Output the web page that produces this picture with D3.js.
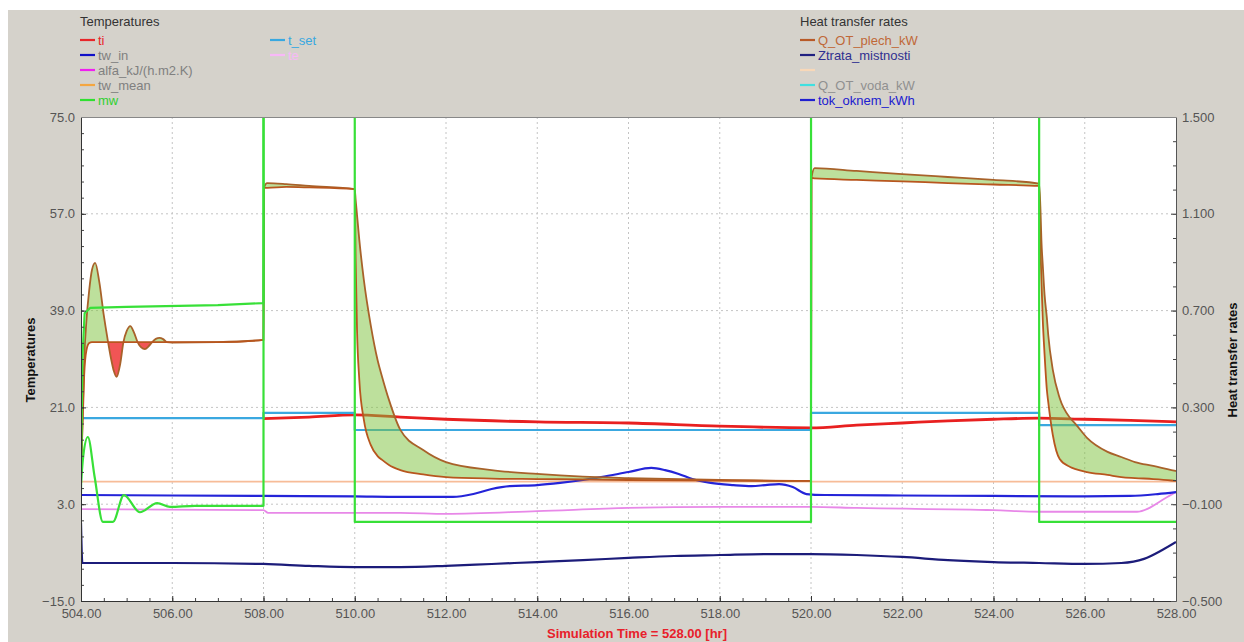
<!DOCTYPE html>
<html><head><meta charset="utf-8">
<script src="https://cdn.jsdelivr.net/npm/d3@7"></script>
<style>body{margin:0;background:#fff} text{font-family:"Liberation Sans",Arial,sans-serif}</style>
</head><body><svg id="c" width="1244" height="642"></svg>
<script>
// ---------- data ----------
const xTicks = [504,506,508,510,512,514,516,518,520,522,524,526,528];
const yLeftTicks = [-15,3,21,39,57,75];
const yRightTicks = [-0.5,-0.1,0.3,0.7,1.1,1.5];

const tiTime = [508,509,510,511,512,514,516,518,520,521,522,523,524,525,526,527,528];
const tiVal  = [18.9,19.2,19.6,19.2,18.8,18.3,18.1,17.5,17.2,17.7,18.1,18.5,18.8,19.0,18.8,18.6,18.3];

const tsetTime = [504,508,508,510,510,520,520,525,525,528];
const tsetVal  = [19,19,20,20,16.8,16.8,20,20,17.7,17.7];

const twMeanTime = [504,528];
const twMeanVal  = [7.2,7.2];

const alfaTime = [504,508,508.1,511,512,514,516,518,520,521,524,525,527.15,527.8,528];
const alfaVal  = [2.1,1.9,1.4,1.4,1.2,1.7,2.3,2.5,2.5,2.3,1.9,1.6,1.6,4.3,5.3];

const mwTime = [504,504.03,504.08,504.2,505,507,508,508.001,510,510.001,520,520.001,525,525.001,528];
const mwVal  = [5,30,38.5,39.5,39.7,40.0,40.4,100,100,-0.3,-0.3,100,100,-0.3,-0.3];

const mw2Time = [504,504.05,504.15,504.3,504.48,504.7,504.94,505.29,505.67,505.95,506.5,508,508.001];
const mw2Val  = [6.9,12,15.5,8,-0.3,-0.3,4.7,1.5,3.2,2.5,2.7,2.7,100];

const qTime = [504.00,504.03,504.07,504.12,504.18,504.24,504.31,504.40,504.50,504.58,504.66,504.72,504.78,504.86,504.93,505.00,505.08,505.16,505.24,505.32,505.40,505.48,505.56,505.64,505.72,505.80,505.88,506.00,507.00,508.00,
  508.01,508.08,508.50,509.00,510.00,
  510.02,510.05,510.10,510.20,510.35,510.50,510.60,510.75,511.0,511.5,512,513,514,515,516,518,520,
  520.01,520.08,521,522,523,524,525.0,
  525.03,525.05,525.08,525.12,525.17,525.2,525.3,525.45,525.68,525.8,526.05,526.5,526.8,527.1,527.5,527.9,528];
const qPlech = [0,0.207,0.434,0.537,0.566,0.570,0.570,0.570,0.570,0.570,0.570,0.570,0.570,0.570,0.570,0.570,0.570,0.570,0.570,0.570,0.570,0.570,0.570,0.570,0.570,0.570,0.570,0.570,0.570,0.579,
  1.207,1.207,1.211,1.209,1.202,
  0.909,0.620,0.413,0.248,0.145,0.099,0.083,0.062,0.041,0.023,0.012,0.006,0.004,0.002,0,-0.002,-0.004,
  1.248,1.246,1.240,1.234,1.227,1.221,1.215,
  0.950,0.826,0.661,0.517,0.372,0.322,0.186,0.087,0.054,0.045,0.033,0.021,0.012,0.008,0.004,-0.002,-0.004];
const qVoda = [0,0.227,0.496,0.661,0.785,0.868,0.897,0.820,0.680,0.585,0.500,0.450,0.426,0.480,0.570,0.615,0.636,0.610,0.570,0.548,0.541,0.552,0.570,0.583,0.587,0.582,0.570,0.568,0.570,0.579,
  1.207,1.227,1.223,1.215,1.202,
  1.157,1.095,0.992,0.826,0.640,0.496,0.426,0.331,0.207,0.124,0.074,0.041,0.025,0.014,0.008,0,-0.004,
  1.248,1.289,1.277,1.264,1.252,1.240,1.225,
  1.116,0.992,0.888,0.764,0.669,0.599,0.455,0.339,0.256,0.231,0.174,0.116,0.095,0.074,0.058,0.041,0.037];

const ztrataTime = [504,504.03,506,508,509,510,511,512,513,514,515,516,517,518,519,520,521,522,523,524,525,526,526.8,527.3,527.7,528];
const ztrataVal  = [-0.178,-0.343,-0.343,-0.347,-0.355,-0.360,-0.360,-0.355,-0.347,-0.339,-0.331,-0.322,-0.314,-0.310,-0.306,-0.306,-0.310,-0.318,-0.331,-0.339,-0.343,-0.347,-0.343,-0.326,-0.289,-0.256];

const tokTime = [504,508,510,511,512.15,512.6,513.0,513.4,514,514.5,515,515.4,516,516.5,516.8,517.1,517.4,517.8,518.3,518.7,519.0,519.3,519.6,519.9,520.3,522,524,526,527,527.6,528];
const tokVal  = [-0.062,-0.066,-0.068,-0.070,-0.070,-0.058,-0.037,-0.025,-0.021,-0.012,0,0.012,0.033,0.050,0.041,0.025,0.004,-0.012,-0.021,-0.025,-0.021,-0.017,-0.029,-0.058,-0.062,-0.064,-0.066,-0.068,-0.066,-0.058,-0.050];

const legendLeftTitle = "Temperatures";
const legendLeft1 = [
  {name:"ti", line:"#e8262a", text:"#e8262a"},
  {name:"tw_in", line:"#1010c8", text:"#808080"},
  {name:"alfa_kJ/(h.m2.K)", line:"#f020f0", text:"#808080"},
  {name:"tw_mean", line:"#f4a640", text:"#808080"},
  {name:"mw", line:"#30e030", text:"#30d030"}];
const legendLeft2 = [
  {name:"t_set", line:"#38a8e0", text:"#38a8e0"},
  {name:"te", line:"#f8b8f8", text:"#f8b8f8"}];
const legendRightTitle = "Heat transfer rates";
const legendRight = [
  {name:"Q_OT_plech_kW", line:"#b85a28", text:"#c06838"},
  {name:"Ztrata_mistnosti", line:"#202080", text:"#303090"},
  {name:"", line:"#f8d8b8", text:"#f8d8b8"},
  {name:"Q_OT_voda_kW", line:"#40e0e0", text:"#909090"},
  {name:"tok_oknem_kWh", line:"#2020d0", text:"#2020d0"}];

// ---------- layout ----------
const svg = d3.select("#c");
const L=81, R=1176, T=117, B=601;
const x = d3.scaleLinear([504,528],[L,R]);
const yL = d3.scaleLinear([-15,75],[B,T]);
const yR = d3.scaleLinear([-0.5,1.5],[B,T]);

svg.append("rect").attr("x",8).attr("y",10).attr("width",1236).attr("height",632).attr("fill","#d5d2cb");
svg.append("rect").attr("x",L).attr("y",T).attr("width",R-L).attr("height",B-T).attr("fill","#fff");

svg.append("defs").append("clipPath").attr("id","plot").append("rect")
  .attr("x",L).attr("y",T).attr("width",R-L).attr("height",B-T);

// grid
const grid = svg.append("g").attr("stroke","#c4c4c4").attr("stroke-dasharray","2,3").attr("stroke-width",1);
xTicks.slice(1,-1).forEach(t=>grid.append("line").attr("x1",x(t)).attr("x2",x(t)).attr("y1",T).attr("y2",B));
yLeftTicks.slice(1,-1).forEach(t=>grid.append("line").attr("x1",L).attr("x2",R).attr("y1",yL(t)).attr("y2",yL(t)));

const plot = svg.append("g").attr("clip-path","url(#plot)");

function drawLine(times, vals, yS, color, w, curve){
  const pts = times.map((t,i)=>[t,vals[i]]);
  plot.append("path").datum(pts)
    .attr("d", d3.line().x(d=>x(d[0])).y(d=>yS(d[1])).curve(curve||d3.curveLinear))
    .attr("fill","none").attr("stroke",color).attr("stroke-width",w).attr("stroke-linejoin","round");
}

drawLine(twMeanTime, twMeanVal, yL, "#f7bc98", 1.6);
drawLine(alfaTime, alfaVal, yL, "#e888e8", 1.8, d3.curveMonotoneX);
drawLine(ztrataTime, ztrataVal, yR, "#1c1c7a", 2.2, d3.curveMonotoneX);
drawLine(tokTime, tokVal, yR, "#2424d8", 2.2, d3.curveMonotoneX);
drawLine(tiTime, tiVal, yL, "#e82020", 2.8, d3.curveMonotoneX);
drawLine(tsetTime, tsetVal, yL, "#3aa8e0", 2.2);

// fills between the two heat flux curves
const qData = qTime.map((t,i)=>({t, a:qPlech[i], b:qVoda[i]}));
const cv = d3.curveMonotoneX;
const defs = svg.select("defs");
defs.append("clipPath").attr("id","above").append("path")
  .attr("d", d3.area().x(d=>x(d.t)).y0(T-50).y1(d=>yR(d.a)).curve(cv)(qData));
defs.append("clipPath").attr("id","below").append("path")
  .attr("d", d3.area().x(d=>x(d.t)).y0(B+50).y1(d=>yR(d.a)).curve(cv)(qData));
const between = d3.area().x(d=>x(d.t)).y0(d=>yR(d.a)).y1(d=>yR(d.b)).curve(cv);
plot.append("g").attr("clip-path","url(#above)").append("path").datum(qData)
  .attr("d",between).attr("fill","#7cc23a").attr("fill-opacity",0.5);
plot.append("g").attr("clip-path","url(#below)").append("path").datum(qData)
  .attr("d",between).attr("fill","#ec1c1c").attr("fill-opacity",0.75);

drawLine(qTime, qVoda, yR, "#a8622a", 1.8, cv);
drawLine(qTime, qPlech, yR, "#b8561e", 1.8, cv);

drawLine(mw2Time, mw2Val, yL, "#38e038", 2.2, d3.curveMonotoneX);
drawLine(mwTime, mwVal, yL, "#38e038", 2.2);

// axes
const fontAxis = g=>g.selectAll("text").attr("font-size",13).attr("fill","#555").attr("font-family","Liberation Sans, Arial, sans-serif");
const minorX = d3.range(504,528.001,0.5), minorL = d3.range(-15,75.001,3), minorR = d3.range(-0.5,1.5001,0.1);

svg.append("g").attr("transform",`translate(0,${B})`)
  .call(d3.axisBottom(x).tickValues(minorX).tickSize(-3).tickFormat("")).call(g=>g.select(".domain").remove())
  .selectAll("line").attr("stroke","#444");
svg.append("g").attr("transform",`translate(${L},0)`)
  .call(d3.axisLeft(yL).tickValues(minorL).tickSize(-3).tickFormat("")).call(g=>g.select(".domain").remove())
  .selectAll("line").attr("stroke","#444");
svg.append("g").attr("transform",`translate(${R},0)`)
  .call(d3.axisRight(yR).tickValues(minorR).tickSize(-3).tickFormat("")).call(g=>g.select(".domain").remove())
  .selectAll("line").attr("stroke","#444");

svg.append("g").attr("transform",`translate(0,${B})`)
  .call(d3.axisBottom(x).tickValues(xTicks).tickSizeInner(-5).tickSizeOuter(0).tickPadding(8).tickFormat(d3.format(".2f")))
  .call(fontAxis).call(g=>g.selectAll("line,path").attr("stroke","#333"));
svg.append("g").attr("transform",`translate(${L},0)`)
  .call(d3.axisLeft(yL).tickValues(yLeftTicks).tickSizeInner(-5).tickSizeOuter(0).tickPadding(6).tickFormat(d3.format(".1f")))
  .call(fontAxis).call(g=>g.selectAll("line,path").attr("stroke","#333"));
svg.append("g").attr("transform",`translate(${R},0)`)
  .call(d3.axisRight(yR).tickValues(yRightTicks).tickSizeInner(-5).tickSizeOuter(0).tickPadding(6).tickFormat(d3.format(".3f")))
  .call(fontAxis).call(g=>g.selectAll("line,path").attr("stroke","#555"));
svg.append("line").attr("x1",L).attr("x2",R).attr("y1",T+0.5).attr("y2",T+0.5).attr("stroke","#888");

// axis titles
svg.append("text").attr("transform","translate(35,360) rotate(-90)").attr("text-anchor","middle")
  .attr("font-size",13).attr("font-weight","bold").attr("fill","#111").text("Temperatures");
svg.append("text").attr("transform","translate(1237,360) rotate(-90)").attr("text-anchor","middle")
  .attr("font-size",13).attr("font-weight","bold").attr("fill","#111").text("Heat transfer rates");
svg.append("text").attr("x",637).attr("y",638).attr("text-anchor","middle")
  .attr("font-size",13).attr("font-weight","bold").attr("fill","#e8202a").text("Simulation Time = 528.00 [hr]");

// legends
function legend(x0, y0, items){
  items.forEach((it,i)=>{
    const y = y0 + i*15;
    svg.append("line").attr("x1",x0).attr("x2",x0+15).attr("y1",y).attr("y2",y).attr("stroke",it.line).attr("stroke-width",2.2);
    svg.append("text").attr("x",x0+18).attr("y",y+4.5).attr("font-size",13).attr("fill",it.text).text(it.name);
  });
}
svg.append("text").attr("x",80).attr("y",26).attr("font-size",13).attr("fill","#333").text(legendLeftTitle);
legend(80,40,legendLeft1);
legend(270,40,legendLeft2);
svg.append("text").attr("x",800).attr("y",26).attr("font-size",13).attr("fill","#333").text(legendRightTitle);
legend(800,40,legendRight);
</script></body></html>
